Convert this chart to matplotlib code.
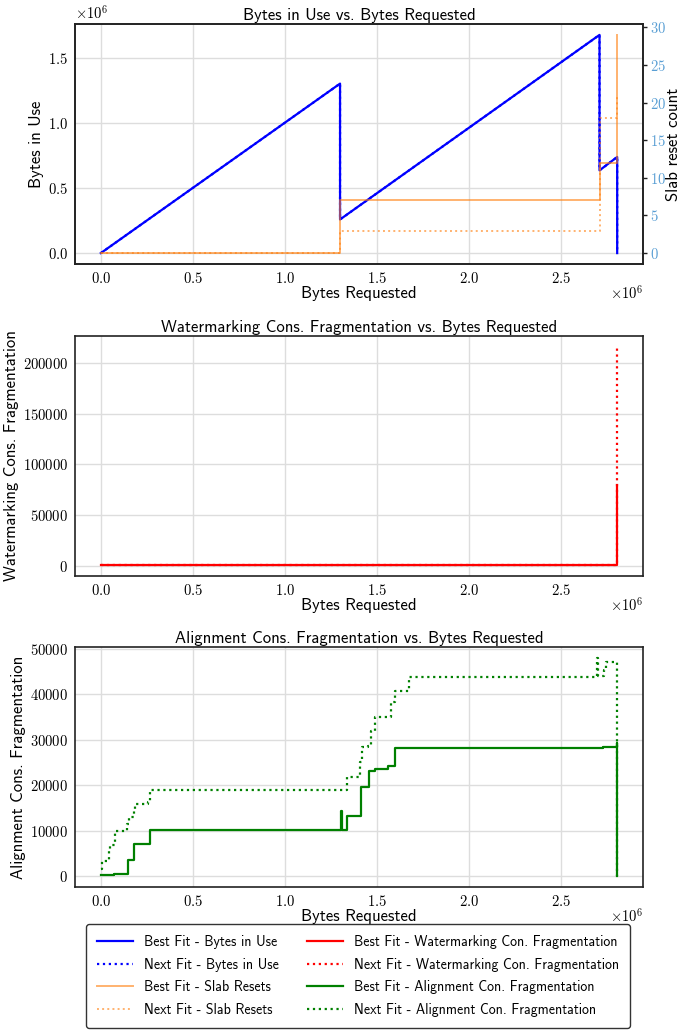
import matplotlib
matplotlib.use('Agg')
import matplotlib.pyplot as plt
from matplotlib.ticker import MultipleLocator

# --- data ---
# bytes in use (vertices of the sawtooth)
use_x = [0, 1.300e6, 1.300e6, 2.710e6, 2.710e6, 2.806e6, 2.806e6]
best_use = [0, 1.305e6, 0.259e6, 1.680e6, 0.637e6, 0.740e6, 0]
next_use = [0, 1.305e6, 0.259e6, 1.680e6, 0.637e6, 0.740e6, 0]

# slab resets (step, post)
slab_x = [0, 1.300e6, 2.710e6, 2.806e6, 2.806e6]
best_slab = [0, 7, 12, 29, 29]
next_slab = [0, 3, 18, 21, 21]

# watermarking fragmentation (step, post)
wm_x = [0, 2.806e6, 2.806e6]
best_wm = [600, 80000, 80000]
next_wm = [500, 216000, 216000]

# alignment fragmentation (step, post)
best_al_x = [0, 0.072e6, 0.149e6, 0.182e6, 0.267e6, 1.303e6, 1.308e6, 1.337e6,
             1.415e6, 1.460e6, 1.490e6, 1.560e6, 1.600e6, 2.730e6, 2.806e6, 2.806e6]
best_al = [150, 440, 3500, 7100, 10200, 14300, 10200, 13300,
           19600, 23200, 23500, 24200, 28100, 28300, 29300, 0]
next_al_x = [0, 0.005e6, 0.042e6, 0.047e6, 0.052e6, 0.075e6, 0.079e6, 0.143e6,
             0.154e6, 0.182e6, 0.186e6, 0.259e6, 0.267e6, 1.339e6, 1.410e6,
             1.420e6, 1.450e6, 1.470e6, 1.490e6, 1.577e6, 1.597e6, 1.677e6,
             2.698e6, 2.702e6, 2.734e6, 2.745e6, 2.806e6, 2.806e6]
next_al = [1500, 3250, 4800, 6000, 6900, 8500, 9900, 11500,
           13100, 14500, 15800, 16200, 18900, 21900, 25000,
           28300, 28600, 32000, 35000, 38200, 40800, 43900,
           48000, 44000, 45300, 47000, 29500, 0]

plt.rcParams['font.family'] = 'cmr10'
plt.rcParams['mathtext.fontset'] = 'cm'
plt.rcParams['axes.formatter.use_mathtext'] = True
sans = 'cmss10'
grid_col = '#dddddd'
orange = 'tab:orange'
right_col = '#5a9fd4'
lab_fs = 12
tick_fs = 10.5

fig = plt.figure(figsize=(6.83, 10.31), dpi=100)
W, H = 683, 1031


def make_ax(top, bottom):
    return fig.add_axes([75 / W, 1 - bottom / H, (643 - 75) / W, (bottom - top) / H])


def style(ax, title, ylabel):
    ax.set_title(title, family=sans, fontsize=lab_fs, pad=3)
    ax.set_xlabel('Bytes Requested', family=sans, fontsize=lab_fs, labelpad=0)
    ax.set_ylabel(ylabel, family=sans, fontsize=lab_fs, labelpad=3)
    ax.grid(True, color=grid_col, lw=1)
    ax.set_axisbelow(True)
    ax.tick_params(length=0, labelsize=tick_fs, pad=5)
    # x offset drawn by hand so it sits level with the x label
    ax.xaxis.get_offset_text().set_visible(False)
    ax.text(1.0, -29 / 240, r'$\times10^{6}$', transform=ax.transAxes,
            ha='right', va='center', fontsize=tick_fs)
    for s in ax.spines.values():
        s.set_linewidth(1.2)
        s.set_color('#222222')


ax1 = make_ax(24, 264)
ax2 = make_ax(336, 576)
ax3 = make_ax(647, 887)

# top: bytes in use + slab resets
l1, = ax1.plot(use_x, best_use, color='blue', lw=1.6, label='Best Fit - Bytes in Use')
l2, = ax1.plot(use_x, next_use, color='blue', lw=1.6, ls=':', label='Next Fit - Bytes in Use')
style(ax1, 'Bytes in Use vs. Bytes Requested', 'Bytes in Use')
ax1.yaxis.set_major_locator(MultipleLocator(0.5e6))
ax1.yaxis.get_offset_text().set_fontsize(tick_fs)
ax1b = ax1.twinx()
l3, = ax1b.plot(slab_x, best_slab, color=orange, alpha=0.6, lw=1.4, drawstyle='steps-post',
                label='Best Fit - Slab Resets')
l4, = ax1b.plot(slab_x, next_slab, color=orange, alpha=0.6, lw=1.4, ls=':', drawstyle='steps-post',
                label='Next Fit - Slab Resets')
ax1b.set_ylabel('Slab reset count', family=sans, fontsize=lab_fs, labelpad=0)
ax1b.tick_params(axis='y', colors=right_col, labelsize=tick_fs, length=3, width=1, pad=2)
ax1b.tick_params(axis='y', color='#222222')
ax1b.set_yticks([0, 5, 10, 15, 20, 25, 30])
ax1b.grid(False)
for s in ax1b.spines.values():
    s.set_linewidth(1.2)
    s.set_color('#222222')

# middle: watermarking
l5, = ax2.plot(wm_x, best_wm, color='red', lw=1.6, drawstyle='steps-post',
               label='Best Fit - Watermarking Con. Fragmentation')
l6, = ax2.plot(wm_x, next_wm, color='red', lw=1.6, ls=':', drawstyle='steps-post',
               label='Next Fit - Watermarking Con. Fragmentation')
style(ax2, 'Watermarking Cons. Fragmentation vs. Bytes Requested', 'Watermarking Cons. Fragmentation')

# bottom: alignment
l7, = ax3.plot(best_al_x, best_al, color='green', lw=1.6, drawstyle='steps-post',
               label='Best Fit - Alignment Con. Fragmentation')
l8, = ax3.plot(next_al_x, next_al, color='green', lw=1.6, ls=':', drawstyle='steps-post',
               label='Next Fit - Alignment Con. Fragmentation')
style(ax3, 'Alignment Cons. Fragmentation vs. Bytes Requested', 'Alignment Cons. Fragmentation')

handles = [l1, l2, l3, l4, l5, l6, l7, l8]
fig.legend(handles=handles, labels=[h.get_label() for h in handles], ncol=2,
           loc='upper center', bbox_to_anchor=(358 / W, 1 - 917 / H),
           prop={'family': sans, 'size': 10}, frameon=True, edgecolor='#333333',
           fancybox=True, borderpad=0.8, labelspacing=0.62, handlelength=2.6,
           columnspacing=2.0, framealpha=1)

fig.savefig('out.png', dpi=100)
